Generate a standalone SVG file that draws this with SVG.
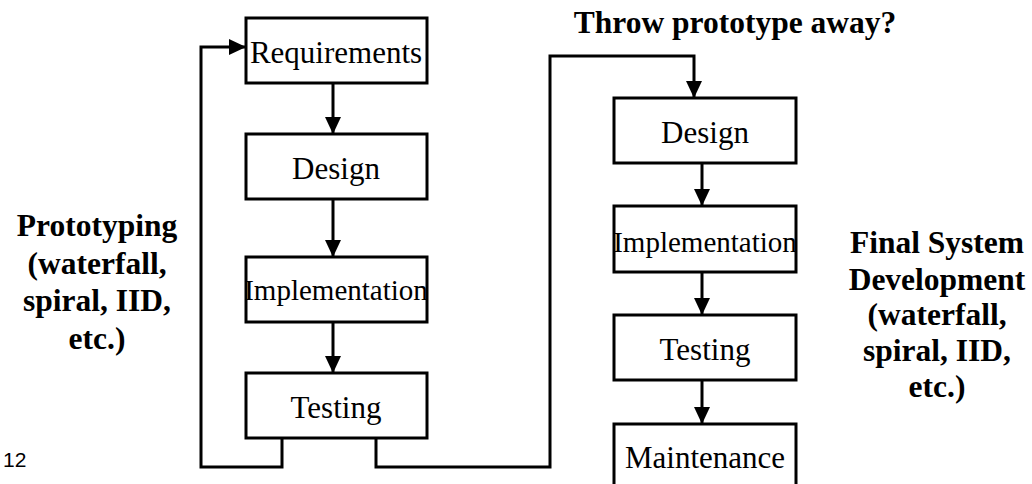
<svg xmlns="http://www.w3.org/2000/svg" width="1032" height="484" viewBox="0 0 1032 484">
  <style>
    .box { fill: #fff; stroke: #000; stroke-width: 3; }
    .lbl { font-family: "Liberation Serif", "Times New Roman", serif; font-size: 31px; fill: #000; text-anchor: middle; }
    .lbl.small { font-size: 29px; }
    .note { font-family: "Liberation Serif", "Times New Roman", serif; font-size: 31.5px; font-weight: bold; fill: #000; text-anchor: middle; }
    .wire { fill: none; stroke: #000; stroke-width: 3; stroke-linejoin: miter; }
    .page { font-family: "Liberation Sans", Arial, sans-serif; font-size: 21px; fill: #000; }
  </style>
  <defs>
    <marker id="head" markerUnits="userSpaceOnUse" markerWidth="18" markerHeight="16" refX="17" refY="8" orient="auto">
      <path d="M0,0 L17,8 L0,16 Z" fill="#000"/>
    </marker>
  </defs>

  <rect width="1032" height="484" fill="#fff"/>

  <!-- connectors -->
  <g id="connectors">
    <!-- prototype column -->
    <path class="wire" d="M333,83 V134" marker-end="url(#head)"/>
    <path class="wire" d="M333,199 V257" marker-end="url(#head)"/>
    <path class="wire" d="M333,322 V373" marker-end="url(#head)"/>
    <!-- iteration loop back to requirements -->
    <path class="wire" d="M282,438 V467 H201 V47 H246" marker-end="url(#head)"/>
    <!-- hand-off to final system -->
    <path class="wire" d="M376,438 V467 H550 V56 H694 V98" marker-end="url(#head)"/>
    <!-- final system column -->
    <path class="wire" d="M702,163 V206" marker-end="url(#head)"/>
    <path class="wire" d="M702,272 V315" marker-end="url(#head)"/>
    <path class="wire" d="M702,380 V424" marker-end="url(#head)"/>
  </g>

  <!-- prototype stages -->
  <g id="p-requirements">
    <rect class="box" x="246" y="18" width="181" height="65"/>
    <text class="lbl" x="336" y="63">Requirements</text>
  </g>
  <g id="p-design">
    <rect class="box" x="246" y="134" width="181" height="65"/>
    <text class="lbl" x="336" y="179">Design</text>
  </g>
  <g id="p-implementation">
    <rect class="box" x="246" y="257" width="181" height="65"/>
    <text class="lbl small" x="336" y="300">Implementation</text>
  </g>
  <g id="p-testing">
    <rect class="box" x="246" y="373" width="181" height="65"/>
    <text class="lbl" x="336" y="418">Testing</text>
  </g>

  <!-- final system stages -->
  <g id="f-design">
    <rect class="box" x="614" y="98" width="182" height="65"/>
    <text class="lbl" x="705" y="143">Design</text>
  </g>
  <g id="f-implementation">
    <rect class="box" x="614" y="206" width="182" height="66"/>
    <text class="lbl small" x="705" y="252">Implementation</text>
  </g>
  <g id="f-testing">
    <rect class="box" x="614" y="315" width="182" height="65"/>
    <text class="lbl" x="705" y="360">Testing</text>
  </g>
  <g id="f-maintenance">
    <rect class="box" x="614" y="424" width="182" height="70"/>
    <text class="lbl" x="705" y="468">Maintenance</text>
  </g>

  <!-- annotations -->
  <g id="note-throw">
    <text class="note" x="735" y="33">Throw prototype away?</text>
  </g>
  <g id="note-prototyping">
    <text class="note" x="97" y="236">Prototyping</text>
    <text class="note" x="97" y="274">(waterfall,</text>
    <text class="note" x="97" y="311">spiral, IID,</text>
    <text class="note" x="97" y="349">etc.)</text>
  </g>
  <g id="note-final">
    <text class="note" x="937" y="253">Final System</text>
    <text class="note" x="937" y="290">Development</text>
    <text class="note" x="937" y="325">(waterfall,</text>
    <text class="note" x="937" y="361">spiral, IID,</text>
    <text class="note" x="937" y="397">etc.)</text>
  </g>

  <text class="page" x="3" y="467">12</text>
</svg>
